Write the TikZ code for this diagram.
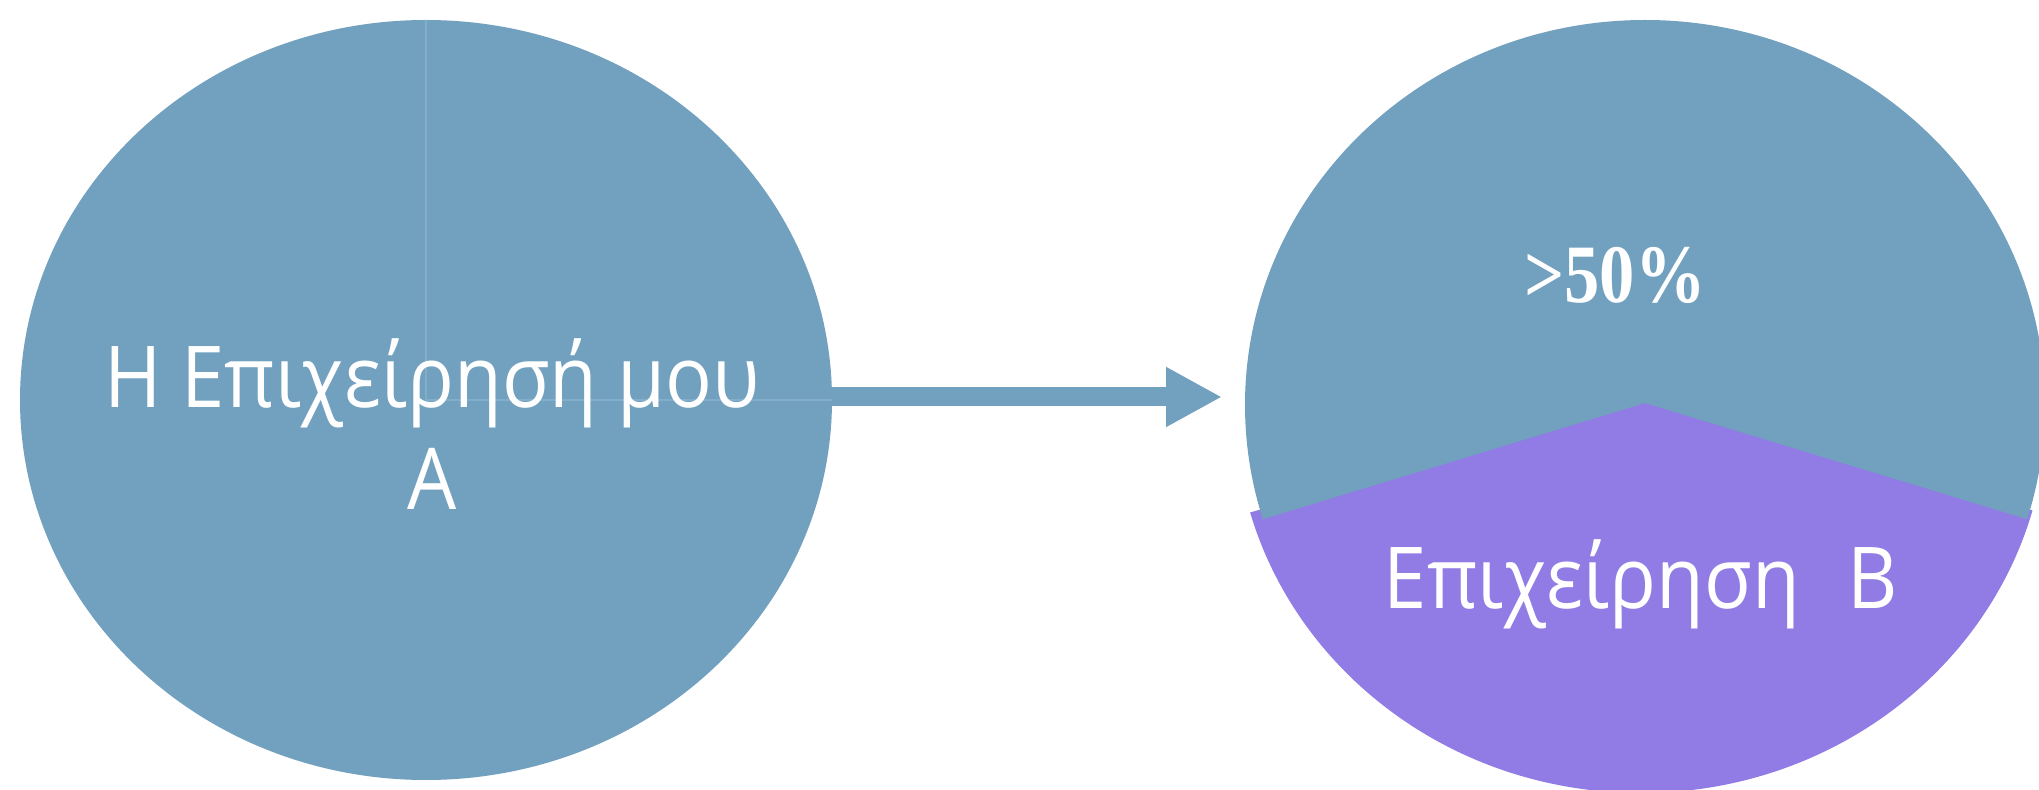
\documentclass[tikz,border=0pt]{standalone}
\usepackage{fontspec}
\setmainfont[FakeStretch=0.91]{Open Sans}
\newfontfamily\pctfont[FakeStretch=0.85]{Liberation Serif Bold}
\usetikzlibrary{arrows.meta,shapes.geometric}
\definecolor{pieblue}{RGB}{114,160,191}
\definecolor{piepurple}{RGB}{145,124,229}
\definecolor{seam}{RGB}{130,174,204}
\begin{document}
\begin{tikzpicture}[x=0.5pt,y=-0.5pt,
  pietext/.style={text=white,font=\fontsize{42.7}{51}\selectfont,anchor=base,inner sep=0pt},
  pcttext/.style={text=white,font=\pctfont\fontsize{41.5}{50}\selectfont,anchor=base,inner sep=0pt},
  seamline/.style={draw=seam,line width=0.6pt},
  flow/.style={draw=pieblue,line width=9.5pt,-{Triangle[length=28pt,width=28pt]}}]
\useasboundingbox (0,0) rectangle (2039,790);
\clip (0,0) rectangle (2039,790);
% left pie
\node[ellipse,fill=pieblue,minimum width=406pt,minimum height=380pt,inner sep=0pt,outer sep=0pt] (A) at (426,400) {};
\draw[seamline] (A.center) -- (A.north);
\draw[seamline] (A.center) -- (A.east);
\node[pietext] (Atext1) at (432,408) {Η Επιχείρησή μου};
\node[pietext] (Atext2) at (432,510) {A};
% arrow
\coordinate (tipB) at (1222,397);
\draw[flow] (A.east |- tipB) -- (tipB);
% right pie
\coordinate (Bc) at (1645,403);
\begin{scope}
\clip (1645,398) -- (1100,556) -- (1100,900) -- (2200,900) -- (2200,559) -- cycle;
\fill[piepurple] (1641,408) ellipse [x radius=203pt, y radius=192.5pt];
\end{scope}
\begin{scope}
\clip (Bc) -- (1100,568.7) -- (1100,-20) -- (2200,-20) -- (2200,571.7) -- cycle;
\fill[pieblue] (1645,405) ellipse [x radius=200pt, y radius=192.5pt];
\end{scope}
\node[pcttext] (pct) at (1615,303) {>50\%};
\node[pietext] (Btext) at (1641,608) {Επιχείρηση\hspace{24pt}B};
\end{tikzpicture}
\end{document}
